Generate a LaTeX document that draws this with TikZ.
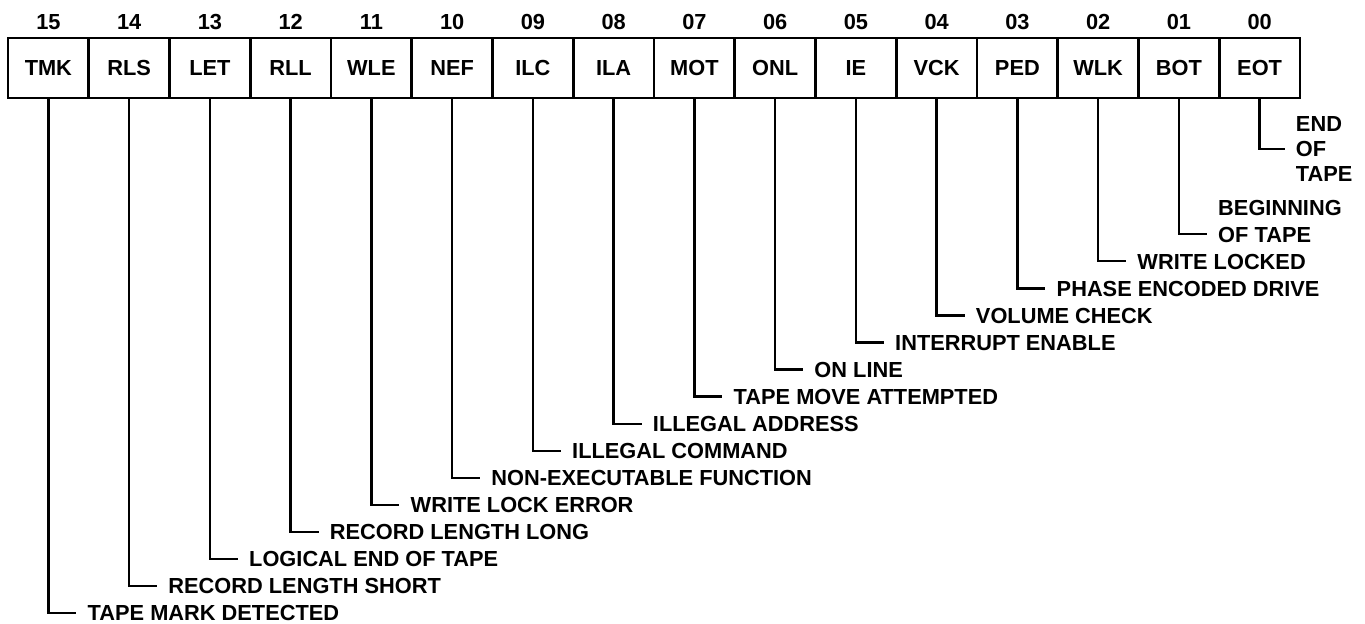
\documentclass[tikz,border=0pt]{standalone}
\usepackage{fontspec}
\setmainfont{Liberation Sans}
\usetikzlibrary{positioning}

\begin{document}
\begin{tikzpicture}[
  font=\bfseries\fontsize{12.4}{14.2}\selectfont,
  bitcell/.style={draw, line width=1.5pt, minimum width=1.615cm,
                  minimum height=1.2cm, inner sep=0pt},
  bitnum/.style={inner sep=0pt},
  desc/.style={anchor=west, inner xsep=0.22cm, inner ysep=0pt,
               text height=8.9pt, text depth=0pt},
  lead/.style={line width=1.3pt},
]
\useasboundingbox (0,0) rectangle (27.3,-12.48);

% status register, bit 15 on the left
\foreach \mn [count=\i from 0] in
    {TMK,RLS,LET,RLL,WLE,NEF,ILC,ILA,MOT,ONL,IE,VCK,PED,WLK,BOT,EOT} {
  \pgfmathtruncatemacro{\bit}{15-\i}
  \node[bitcell] (\mn) at ({0.16+(\i+0.5)*1.615},-1.36) {\mn};
  \node[bitnum] (n\mn) at ({0.16+(\i+0.5)*1.615},-0.44)
    {\ifnum\bit<10 0\fi\bit};
}

% one staircase of descriptions
\foreach \mn/\txt [count=\k from 0] in
    {TMK/TAPE MARK DETECTED, RLS/RECORD LENGTH SHORT,
     LET/LOGICAL END OF TAPE, RLL/RECORD LENGTH LONG,
     WLE/WRITE LOCK ERROR, NEF/NON-EXECUTABLE FUNCTION,
     ILC/ILLEGAL COMMAND, ILA/ILLEGAL ADDRESS,
     MOT/TAPE MOVE ATTEMPTED, ONL/ON LINE, IE/INTERRUPT ENABLE,
     VCK/VOLUME CHECK, PED/PHASE ENCODED DRIVE, WLK/WRITE LOCKED,
     BOT/OF TAPE} {
  \node[desc] (d\mn) at ({0.16+(\k+0.5)*1.615+0.56},{-12.26+0.541*\k}) {\txt};
  \draw[lead] (\mn.south) |- (d\mn.west);
}
\node[desc] (dBOTa) at ([yshift=0.54cm]dBOT.west) {BEGINNING};

\node[anchor=west, inner xsep=0.22cm, inner ysep=0pt, align=left] (dEOT)
  at ({0.16+15.5*1.615+0.5},-2.98) {END\\OF\\TAPE};
\draw[lead] (EOT.south) |- (dEOT.west);

\end{tikzpicture}
\end{document}
